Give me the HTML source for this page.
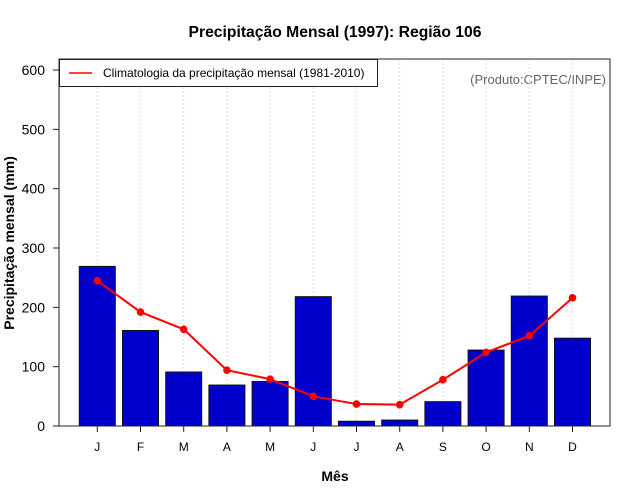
<!DOCTYPE html>
<html><head><meta charset="utf-8"><style>
body{margin:0;background:#fff;}
svg{display:block;font-family:"Liberation Sans",Arial,sans-serif;}
</style></head><body>
<svg id="chart" width="640" height="500" viewBox="0 0 640 500">
<text x="335" y="37" text-anchor="middle" font-size="15.7" font-weight="bold">Precipitação Mensal (1997): Região 106</text>
<text x="335" y="481" text-anchor="middle" font-size="14" font-weight="bold">Mês</text>
<text transform="translate(14,243) rotate(-90)" text-anchor="middle" font-size="14" font-weight="bold">Precipitação mensal (mm)</text>
<text x="606" y="84" text-anchor="end" font-size="13" fill="#666">(Produto:CPTEC/INPE)</text>
<g id="grid"></g><g id="bars"></g><g id="line"></g><g id="axes"></g>
<rect x="59" y="59" width="551" height="367" fill="none" stroke="#222" stroke-width="1"/>
<g>
<rect x="59.5" y="59.5" width="318" height="27" fill="#fff" stroke="#222"/>
<line x1="69" y1="73" x2="92" y2="73" stroke="red" stroke-width="1.5"/>
<text x="103" y="77" font-size="12">Climatologia da precipitação mensal (1981-2010)</text>
</g>
</svg>
<script>
const months=["J","F","M","A","M","J","J","A","S","O","N","D"];
const precip=[269,161,91,69,75,218,8,10,41,128,219,148];
const clim=[245,192,163,94,79,50,37,36,78,124,152,216];
const yTicks=[0,100,200,300,400,500,600];
const NS="http://www.w3.org/2000/svg";
const xc=i=>97.3+i*43.2;
const y=v=>426-v*59.33/100;
function mk(tag,attrs,parent){const e=document.createElementNS(NS,tag);for(const k in attrs)e.setAttribute(k,attrs[k]);parent.appendChild(e);return e;}
const grid=document.getElementById('grid'),bars=document.getElementById('bars'),line=document.getElementById('line'),axes=document.getElementById('axes');
months.forEach((m,i)=>{
 const g=mk('line',{x1:xc(i),x2:xc(i),y1:59,y2:426,stroke:'#ddd','stroke-dasharray':'2,2'},grid);
 
 
 const b=mk('rect',{x:xc(i)-18,y:y(precip[i]),width:36,height:426-y(precip[i]),fill:'#0000cd',stroke:'#111','stroke-width':1},bars);
 
 
 const t=mk('line',{x1:xc(i),x2:xc(i),y1:426,y2:432,stroke:'#222'},axes);
 
 
 const l=mk('text',{x:xc(i),y:451,'text-anchor':'middle','font-size':12},axes);
 l.textContent=m;
 
 
});
const pl=mk('polyline',{points:clim.map((v,i)=>xc(i)+','+y(v)).join(' '),fill:'none',stroke:'red','stroke-width':2},line);


clim.forEach((v,i)=>{
 const c=mk('circle',{cx:xc(i),cy:y(v),r:3.8,fill:'red'},line);
 
 
});
yTicks.forEach(v=>{
 const t=mk('line',{x1:53,x2:59,y1:y(v),y2:y(v),stroke:'#222'},axes);
 
 
 const l=mk('text',{x:45,y:y(v)+5,'text-anchor':'end','font-size':14},axes);
 l.textContent=v;
 
 
});
</script>
</body></html>
